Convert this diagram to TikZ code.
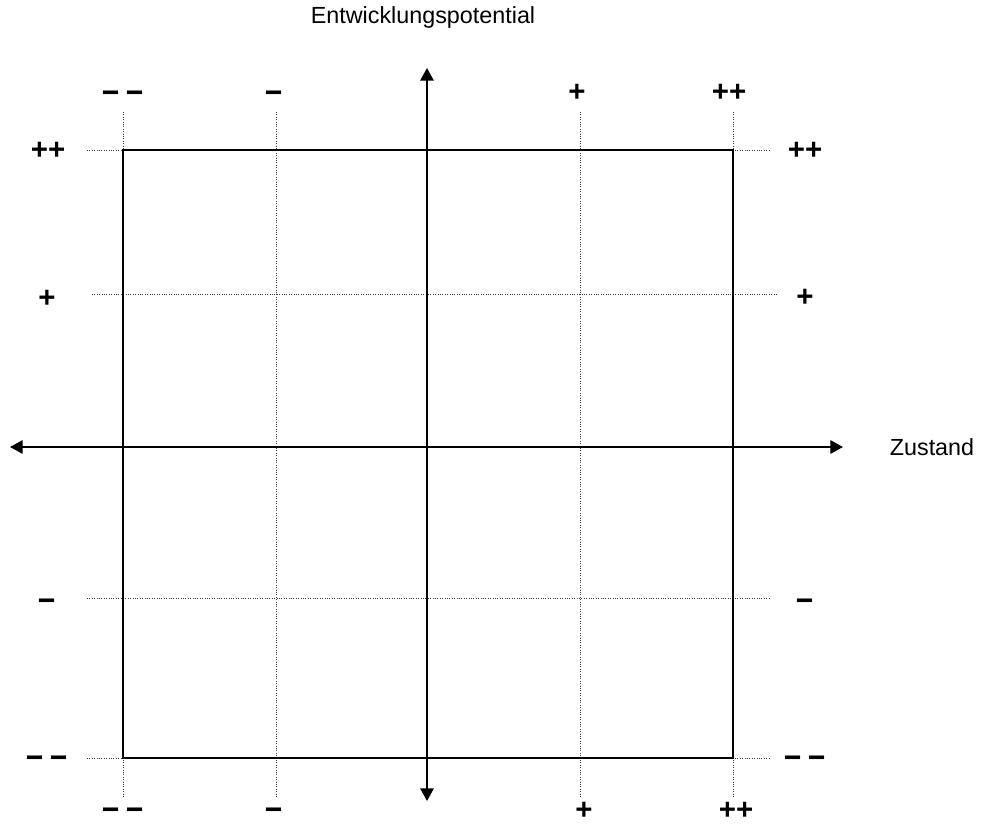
\documentclass[tikz,border=0pt]{standalone}
\usepackage{fontspec}
\usepackage{graphicx}
\setmainfont{Liberation Sans}
\usetikzlibrary{arrows.meta}
\newcommand\sgnm{\scalebox{1.35}[1.6]{–}}
\newcommand\sgnp{\scalebox{1.3}{+}}
\newcommand\sgnmm{\sgnm\hspace{5pt}\sgnm}
\newcommand\sgnpp{\sgnp\kern0pt\sgnp}
\begin{document}
\begin{tikzpicture}[x=0.75pt,y=-0.75pt,
  frame/.style={line width=1.1pt,black},
  axisline/.style={line width=1.6pt,black,{Triangle[length=9.5pt,width=10pt]}-{Triangle[length=9.5pt,width=10pt]}},
  gridline/.style={line width=0.6pt,black!75,dash pattern=on 0.6pt off 1.2pt},
  sign/.style={font=\fontsize{17}{20}\selectfont\bfseries,inner sep=0pt},
  axlabel/.style={font=\fontsize{17.5}{20}\selectfont,inner sep=0pt}]
\useasboundingbox (0,0) rectangle (982,825);
% square corners
\coordinate (tl) at (123,150);
\coordinate (br) at (733,758);
% grid coordinates
\coordinate (v1t) at (123,112); \coordinate (v1b) at (123,797);
\coordinate (v2t) at (276,112); \coordinate (v2b) at (276,797);
\coordinate (v3t) at (580,112); \coordinate (v3b) at (580,797);
\coordinate (v4t) at (733,112); \coordinate (v4b) at (733,797);
\coordinate (h1l) at (87,150);  \coordinate (h1r) at (771,150);
\coordinate (h2l) at (92,294);  \coordinate (h2r) at (777,294);
\coordinate (h3l) at (87,598);  \coordinate (h3r) at (771,598);
\coordinate (h4l) at (87,758);  \coordinate (h4r) at (771,758);
% dotted grid
\draw[gridline] (v1t) -- (v1b);
\draw[gridline] (v2t) -- (v2b);
\draw[gridline] (v3t) -- (v3b);
\draw[gridline] (v4t) -- (v4b);
\draw[gridline] (h1l) -- (h1r);
\draw[gridline] (h2l) -- (h2r);
\draw[gridline] (h3l) -- (h3r);
\draw[gridline] (h4l) -- (h4r);
% square
\draw[frame] (tl) rectangle (br);
% axes
\coordinate (vtop) at (427,68);
\coordinate (vbot) at (427,801);
\coordinate (hleft) at (10,447);
\coordinate (hright) at (843,447);
\draw[axisline] (vbot) -- (vtop);
\draw[axisline] (hleft) -- (hright);
% axis labels
\node[axlabel] (ent) at (423,17) {Entwicklungspotential};
\node[axlabel] (zus) at (932,447) {Zustand};
% top signs
\node[sign] (t1) at (123,97) {\sgnmm};
\node[sign] (t2) at (274,97) {\sgnm};
\node[sign] (t3) at (577,93) {\sgnp};
\node[sign] (t4) at (729,93) {\sgnpp};
% bottom signs
\node[sign] (b1) at (123,814) {\sgnmm};
\node[sign] (b2) at (274,814) {\sgnm};
\node[sign] (b3) at (584,811) {\sgnp};
\node[sign] (b4) at (736,811) {\sgnpp};
% left signs
\node[sign] (l1) at (48,151) {\sgnpp};
\node[sign] (l2) at (47,299) {\sgnp};
\node[sign] (l3) at (47,605) {\sgnm};
\node[sign] (l4) at (47,762) {\sgnmm};
% right signs
\node[sign] (r1) at (805,151) {\sgnpp};
\node[sign] (r2) at (805,298) {\sgnp};
\node[sign] (r3) at (805,605) {\sgnm};
\node[sign] (r4) at (805,762) {\sgnmm};
\end{tikzpicture}
\end{document}
